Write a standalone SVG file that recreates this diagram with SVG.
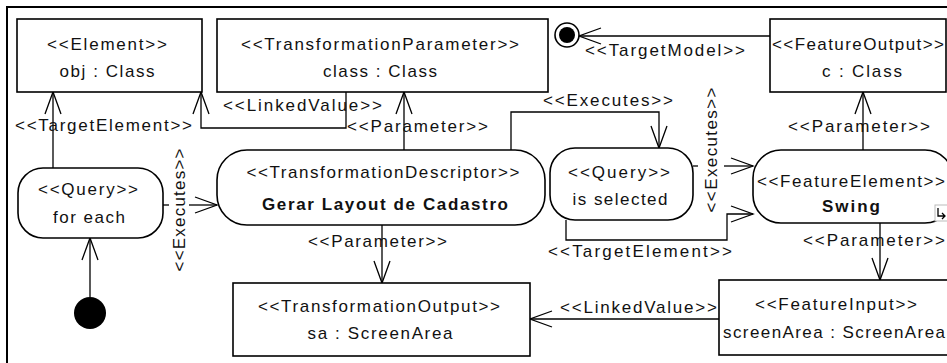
<svg xmlns="http://www.w3.org/2000/svg" width="947" height="363" viewBox="0 0 947 363">
<defs>
<style>
.box{fill:#fff;stroke:#000;stroke-width:1.6}
.con{fill:none;stroke:#000;stroke-width:1.3}
.t{font-family:"Liberation Sans",Arial,sans-serif;font-size:17px;fill:#111;text-anchor:middle}
.b{font-weight:bold}
.lbl{font-family:"Liberation Sans",Arial,sans-serif;font-size:17px;fill:#111}
</style>
<marker id="arr" markerUnits="userSpaceOnUse" markerWidth="30" markerHeight="24" viewBox="-24 -12 30 24" refX="0" refY="0" orient="auto">
<path d="M-22,-8 L0,0 L-22,8" fill="none" stroke="#000" stroke-width="1.3"/>
</marker>
</defs>
<rect x="0" y="0" width="947" height="363" fill="#fff"/>
<rect x="7" y="7" width="1000" height="400" fill="none" stroke="#000" stroke-width="2"/>

<g id="connectors">
<path class="con" d="M53,168 V92" marker-end="url(#arr)"/>
<path class="con" d="M346,92 V128 H201 V92" marker-end="url(#arr)"/>
<path class="con" d="M404,150 V92" marker-end="url(#arr)"/>
<path class="con" d="M511,150 V112 H659 V148" marker-end="url(#arr)"/>
<path class="con" d="M770,36 H579" marker-end="url(#arr)"/>
<path class="con" d="M863,150 V92" marker-end="url(#arr)"/>
<path class="con" d="M163,205 H169"/>
<path class="con" d="M189,205 H217" marker-end="url(#arr)"/>
<path class="con" d="M693,166 H698"/>
<path class="con" d="M724,166 H753" marker-end="url(#arr)"/>
<path class="con" d="M566,220 V240 H727 V214 H753" marker-end="url(#arr)"/>
<path class="con" d="M90,297 V238" marker-end="url(#arr)"/>
<path class="con" d="M382,225 V283" marker-end="url(#arr)"/>
<path class="con" d="M880,223 V280" marker-end="url(#arr)"/>
<path class="con" d="M719,319 H530" marker-end="url(#arr)"/>
<text class="lbl" x="15" y="131" textLength="177" lengthAdjust="spacing">&lt;&lt;TargetElement&gt;&gt;</text>
<text class="lbl" x="223" y="111" textLength="159" lengthAdjust="spacing">&lt;&lt;LinkedValue&gt;&gt;</text>
<text class="lbl" x="347" y="132" textLength="141" lengthAdjust="spacing">&lt;&lt;Parameter&gt;&gt;</text>
<text class="lbl" x="543" y="106" textLength="130" lengthAdjust="spacing">&lt;&lt;Executes&gt;&gt;</text>
<text class="lbl" x="585" y="56" textLength="160" lengthAdjust="spacing">&lt;&lt;TargetModel&gt;&gt;</text>
<text class="lbl" x="788" y="132" textLength="142" lengthAdjust="spacing">&lt;&lt;Parameter&gt;&gt;</text>
<text class="lbl" x="803" y="246" textLength="142" lengthAdjust="spacing">&lt;&lt;Parameter&gt;&gt;</text>
<text class="lbl" x="308" y="247" textLength="139" lengthAdjust="spacing">&lt;&lt;Parameter&gt;&gt;</text>
<text class="lbl" x="548" y="257" textLength="184" lengthAdjust="spacing">&lt;&lt;TargetElement&gt;&gt;</text>
<text class="lbl" x="560" y="313" textLength="157" lengthAdjust="spacing">&lt;&lt;LinkedValue&gt;&gt;</text>
<text class="t" transform="translate(185,210) rotate(-90)" x="0" y="0" textLength="123" lengthAdjust="spacing">&lt;&lt;Executes&gt;&gt;</text>
<text class="t" transform="translate(717,150) rotate(-90)" x="0" y="0" textLength="125" lengthAdjust="spacing">&lt;&lt;Executes&gt;&gt;</text>
</g>

<g id="element">
<rect class="box" x="17" y="19" width="185" height="73"/>
<text class="t" x="107" y="50" textLength="120" lengthAdjust="spacing">&lt;&lt;Element&gt;&gt;</text>
<text class="t" x="107" y="77" textLength="95" lengthAdjust="spacing">obj : Class</text>
</g>

<g id="transformationParameter">
<rect class="box" x="217" y="19" width="331" height="73"/>
<text class="t" x="380" y="50" textLength="278" lengthAdjust="spacing">&lt;&lt;TransformationParameter&gt;&gt;</text>
<text class="t" x="380" y="77" textLength="114" lengthAdjust="spacing">class : Class</text>
</g>

<g id="finalNode">
<circle cx="567" cy="35" r="12" fill="#fff" stroke="#000" stroke-width="1.6"/>
<circle cx="567" cy="35" r="8" fill="#000"/>
</g>

<g id="featureOutput">
<rect class="box" x="770" y="19" width="176" height="73"/>
<text class="t" x="858" y="50" textLength="172" lengthAdjust="spacing">&lt;&lt;FeatureOutput&gt;&gt;</text>
<text class="t" x="862" y="77" textLength="80" lengthAdjust="spacing">c : Class</text>
</g>

<g id="queryForEach">
<rect class="box" x="18" y="168" width="145" height="70" rx="25" ry="25"/>
<text class="t" x="88" y="195" textLength="100" lengthAdjust="spacing">&lt;&lt;Query&gt;&gt;</text>
<text class="t" x="89" y="223" textLength="72" lengthAdjust="spacing">for each</text>
</g>

<g id="initialNode">
<circle cx="90" cy="313" r="16" fill="#000"/>
</g>

<g id="transformationDescriptor">
<rect class="box" x="217" y="150" width="328" height="75" rx="30" ry="30"/>
<text class="t" x="383" y="178" textLength="273" lengthAdjust="spacing">&lt;&lt;TransformationDescriptor&gt;&gt;</text>
<text class="t b" x="385" y="210" textLength="246" lengthAdjust="spacing">Gerar Layout de Cadastro</text>
</g>

<g id="queryIsSelected">
<rect class="box" x="550" y="148" width="143" height="72" rx="25" ry="25"/>
<text class="t" x="619" y="178" textLength="102" lengthAdjust="spacing">&lt;&lt;Query&gt;&gt;</text>
<text class="t" x="620" y="205" textLength="95" lengthAdjust="spacing">is selected</text>
</g>

<g id="featureElement">
<rect class="box" x="753" y="150" width="200" height="73" rx="28" ry="28"/>
<text class="t" x="851" y="187" textLength="188" lengthAdjust="spacing">&lt;&lt;FeatureElement&gt;&gt;</text>
<text class="t b" x="851" y="212" textLength="58" lengthAdjust="spacing">Swing</text>
<rect x="935" y="205" width="13" height="16" fill="#fff" stroke="#bbb" stroke-width="1"/>
<path d="M938,208 V216 H945 M942,213 L945,216 L942,219" fill="none" stroke="#000" stroke-width="1.3"/>
</g>

<g id="transformationOutput">
<rect class="box" x="233" y="283" width="297" height="73"/>
<text class="t" x="379" y="312" textLength="242" lengthAdjust="spacing">&lt;&lt;TransformationOutput&gt;&gt;</text>
<text class="t" x="380" y="339" textLength="145" lengthAdjust="spacing">sa : ScreenArea</text>
</g>

<g id="featureInput">
<rect class="box" x="719" y="280" width="240" height="75"/>
<text class="t" x="836" y="310" textLength="162" lengthAdjust="spacing">&lt;&lt;FeatureInput&gt;&gt;</text>
<text class="t" x="834" y="338" textLength="222" lengthAdjust="spacing">screenArea : ScreenArea</text>
</g>
</svg>
